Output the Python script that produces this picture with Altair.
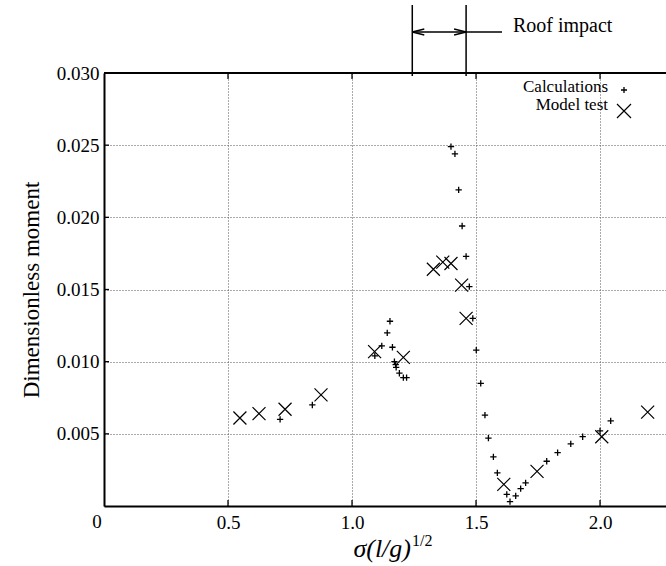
import altair as alt
import pandas as pd

# ---- data ----
calc_sigma = [0.710, 0.840, 1.092, 1.120, 1.142, 1.153, 1.163, 1.171, 1.176, 1.178,
              1.191, 1.207, 1.220, 1.399, 1.415, 1.430, 1.444, 1.460, 1.473, 1.487,
              1.501, 1.519, 1.536, 1.550, 1.570, 1.586, 1.624, 1.637, 1.660, 1.680,
              1.700, 1.785, 1.829, 1.882, 1.930, 2.000, 2.043]
calc_moment = [0.0060, 0.0070, 0.0104, 0.0111, 0.0120, 0.0128, 0.0110, 0.0100, 0.0098, 0.0096,
               0.0092, 0.0089, 0.0089, 0.0249, 0.0244, 0.0219, 0.0194, 0.0173, 0.0152, 0.0130,
               0.0108, 0.0085, 0.0063, 0.0047, 0.0034, 0.0023, 0.0008, 0.0003, 0.0007, 0.0012,
               0.0016, 0.0031, 0.0037, 0.0043, 0.0048, 0.0052, 0.0059]

model_sigma = [0.548, 0.625, 0.730, 0.875, 1.091, 1.207, 1.328, 1.366, 1.399, 1.442,
               1.460, 1.612, 1.746, 2.007, 2.192]
model_moment = [0.0061, 0.0064, 0.0067, 0.0077, 0.0107, 0.0103, 0.0164, 0.0169, 0.0168, 0.0153,
                0.0130, 0.0015, 0.0024, 0.0048, 0.0065]

x_ticks = [0.5, 1.0, 1.5, 2.0]
y_ticks = [0.005, 0.010, 0.015, 0.020, 0.025, 0.030]
roof_impact = [1.243, 1.460]
roof_label = ["Roof impact"]
legend_labels = ["Calculations", "Model test"]
x_title = ["σ(l/g)", "1/2"]
y_title = "Dimensionless moment"
origin_label = ["0"]

# ---- layout ----
W, H = 562, 433
XMAX = 2.266
SERIF = "Liberation Serif"
PLUS = "M-1,0L1,0M0,-1L0,1"
CROSS = "M-1,-1L1,1M-1,1L1,-1"
ARROW_L = "M0,0L2,-0.5M0,0L2,0.5"
ARROW_R = "M0,0L-2,-0.5M0,0L-2,0.5"

xs = alt.Scale(domain=[0, XMAX], nice=False, zero=False)
ys = alt.Scale(domain=[0, 0.030], nice=False, zero=False)

x_axis = alt.Axis(values=[0] + x_ticks,
                  labelExpr="datum.value == 0 ? '' : format(datum.value, '.1f')",
                  grid=True, gridDash=[1, 2], gridColor="#555", gridWidth=1,
                  tickSize=0, domainColor="black", domainWidth=2,
                  labelFont=SERIF, labelFontSize=19, labelColor="black",
                  labelPadding=7, title=None)
y_axis = alt.Axis(values=y_ticks, format=".3f",
                  grid=True, gridDash=[1, 2], gridColor="#555", gridWidth=1,
                  tickSize=0, domainColor="black", domainWidth=2,
                  labelFont=SERIF, labelFontSize=19, labelColor="black",
                  labelPadding=5, title=y_title, titleFont=SERIF,
                  titleFontSize=23, titleFontWeight="normal", titleColor="black",
                  titlePadding=13)

X = lambda: alt.X("sigma:Q", scale=xs, axis=x_axis)
Y = lambda: alt.Y("moment:Q", scale=ys, axis=y_axis)

calc_df = pd.DataFrame({"sigma": calc_sigma, "moment": calc_moment})
model_df = pd.DataFrame({"sigma": model_sigma, "moment": model_moment})

calc = alt.Chart(calc_df).mark_point(shape=PLUS, size=40, filled=False, color="black",
                                     strokeWidth=1.3, opacity=1).encode(x=X(), y=Y())
model = alt.Chart(model_df).mark_point(shape=CROSS, size=169, filled=False, color="black",
                                       strokeWidth=1.2, opacity=1).encode(x=X(), y=Y())

xt_df = pd.DataFrame({"sigma": x_ticks})
yt_df = pd.DataFrame({"moment": y_ticks})
bottom_ticks = alt.Chart(xt_df).mark_rule(color="black", strokeWidth=1.3).encode(
    x=X(), y=alt.value(H), y2=alt.value(H - 6))
top_ticks = alt.Chart(xt_df).mark_rule(color="black", strokeWidth=1.3).encode(
    x=X(), y=alt.value(0), y2=alt.value(6))
left_ticks = alt.Chart(yt_df).mark_rule(color="black", strokeWidth=1.3).encode(
    y=Y(), x=alt.value(0), x2=alt.value(5))
top_border = alt.Chart(pd.DataFrame({"k": [0]})).mark_rule(color="black", strokeWidth=2).encode(
    x=alt.value(0), x2=alt.value(W), y=alt.value(0))

roof_df = pd.DataFrame({"sigma": roof_impact})
roof_rules = alt.Chart(roof_df).mark_rule(color="black", strokeWidth=1.5, clip=False).encode(
    x=X(), y=alt.value(-68), y2=alt.value(3))
roof_line = alt.Chart(pd.DataFrame({"sigma": [roof_impact[0]]})).mark_rule(
    color="black", strokeWidth=1.3, clip=False).encode(
    x=X(), x2=alt.value(398), y=alt.value(-41))
arrow_l = alt.Chart(pd.DataFrame({"sigma": [roof_impact[0]]})).mark_point(
    shape=ARROW_L, size=144, filled=False, color="black", strokeWidth=1.3, opacity=1,
    clip=False).encode(x=X(), y=alt.value(-41))
arrow_r = alt.Chart(pd.DataFrame({"sigma": [roof_impact[1]]})).mark_point(
    shape=ARROW_R, size=144, filled=False, color="black", strokeWidth=1.3, opacity=1,
    clip=False).encode(x=X(), y=alt.value(-41))
roof_text = alt.Chart(pd.DataFrame({"label": roof_label})).mark_text(
    align="left", baseline="alphabetic", font=SERIF, fontSize=20, color="black").encode(
    text="label:N", x=alt.value(409), y=alt.value(-41))

leg1 = alt.Chart(pd.DataFrame({"label": [legend_labels[0]]})).mark_text(
    align="right", baseline="alphabetic", font=SERIF, fontSize=17, color="black").encode(
    text="label:N", x=alt.value(504), y=alt.value(18.5))
leg2 = alt.Chart(pd.DataFrame({"label": [legend_labels[1]]})).mark_text(
    align="right", baseline="alphabetic", font=SERIF, fontSize=17, color="black").encode(
    text="label:N", x=alt.value(504), y=alt.value(36.8))
leg_plus = alt.Chart(pd.DataFrame({"k": [0]})).mark_point(
    shape=PLUS, size=36, filled=False, color="black", strokeWidth=1.3, opacity=1).encode(
    x=alt.value(520), y=alt.value(17))
leg_cross = alt.Chart(pd.DataFrame({"k": [0]})).mark_point(
    shape=CROSS, size=196, filled=False, color="black", strokeWidth=1.2, opacity=1).encode(
    x=alt.value(520), y=alt.value(38))

origin = alt.Chart(pd.DataFrame({"label": origin_label})).mark_text(
    align="center", baseline="top", font=SERIF, fontSize=19, color="black").encode(
    text="label:N", x=alt.value(-7), y=alt.value(H + 7))

xt_main = alt.Chart(pd.DataFrame({"label": [x_title[0]]})).mark_text(
    align="right", baseline="alphabetic", font=SERIF, fontSize=26, fontStyle="italic",
    color="black").encode(text="label:N", x=alt.value(307), y=alt.value(484))
xt_sup = alt.Chart(pd.DataFrame({"label": [x_title[1]]})).mark_text(
    align="left", baseline="alphabetic", font=SERIF, fontSize=16,
    color="black").encode(text="label:N", x=alt.value(308), y=alt.value(473))

chart = alt.layer(
    bottom_ticks, top_ticks, left_ticks, top_border,
    calc, model,
    roof_rules, roof_line, arrow_l, arrow_r, roof_text,
    leg1, leg2, leg_plus, leg_cross, origin, xt_main, xt_sup
).properties(
    width=W, height=H,
    padding={"left": 104, "top": 73, "right": 0, "bottom": 60},
    autosize=alt.AutoSizeParams(type="none"),
    background="white",
).configure_view(stroke=None)

chart.save("out.html", embed_options={"renderer": "svg", "actions": False})
